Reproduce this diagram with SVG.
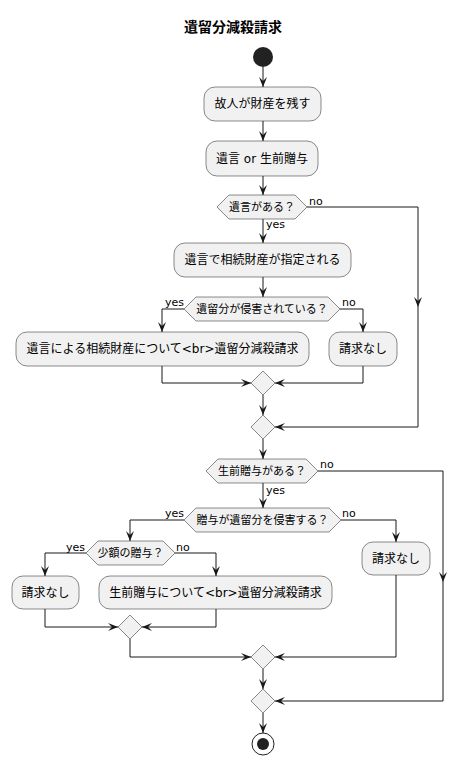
<svg xmlns="http://www.w3.org/2000/svg" width="468" height="765" viewBox="0 0 468 765">
<defs>
<style>
text{font-family:"DejaVu Sans","Noto Sans CJK JP",sans-serif;fill:#000}
.t{font-size:14px;font-weight:bold;text-anchor:middle}
.a{font-size:12px;text-anchor:middle}
.d{font-size:11px;text-anchor:middle}
.l{font-size:11px}
.e{font-size:11px;text-anchor:end}
.box{fill:#F1F1F1;stroke:#181818;stroke-width:0.5}
.c path{fill:none;stroke:#181818;stroke-width:1;marker-end:url(#ah)}
</style>
<marker id="ah" markerUnits="userSpaceOnUse" viewBox="0 0 10 8" refX="10" refY="4" markerWidth="10" markerHeight="8" orient="auto">
<path d="M0,0 L10,4 L0,8 L4,4 Z" fill="#181818"/>
</marker>
</defs>
<rect width="468" height="765" fill="#fff"/>
<text class="t" x="233" y="32">遺留分減殺請求</text>

<g class="c" id="connectors">
<path d="M263,67 V87"/>
<path d="M263,121 V141"/>
<path d="M263,176 V195"/>
<path d="M307,207 H418 V307"/>
<path d="M418,307 V427 H275"/>
<path d="M263,219 V243"/>
<path d="M263,277 V297"/>
<path d="M184,309 H162 V332"/>
<path d="M340,309 H363 V332"/>
<path d="M162,366 V383 H251"/>
<path d="M363,366 V383 H275"/>
<path d="M263,395 V415"/>
<path d="M263,439 V459"/>
<path d="M318,471 H443 V582"/>
<path d="M443,582 V701 H275"/>
<path d="M263,483 V508"/>
<path d="M184,520 H130 V541"/>
<path d="M341,520 H396 V542"/>
<path d="M86,553 H45 V576"/>
<path d="M175,553 H216 V576"/>
<path d="M45,609 V627 H118"/>
<path d="M216,609 V627 H142"/>
<path d="M130,639 V657 H251"/>
<path d="M396,575 V657 H275"/>
<path d="M263,669 V689"/>
<path d="M263,713 V733"/>
</g>

<g id="start"><circle cx="263" cy="57" r="10" fill="#222"/></g>

<g id="n1"><rect class="box" x="204" y="87" width="117" height="34" rx="11"/><text class="a" x="262.5" y="108">故人が財産を残す</text></g>
<g id="n2"><rect class="box" x="206" y="141" width="112" height="35" rx="11"/><text class="a" x="262" y="163">遺言 or 生前贈与</text></g>

<g id="d1"><polygon class="box" points="217,207 229,195 295,195 307,207 295,219 229,219"/><text class="d" x="262" y="211">遺言がある？</text></g>
<text class="l" x="309" y="205">no</text>
<text class="l" x="266" y="228">yes</text>

<g id="n3"><rect class="box" x="174" y="243" width="177" height="34" rx="11"/><text class="a" x="262.5" y="264">遺言で相続財産が指定される</text></g>

<g id="d2"><polygon class="box" points="184,309 196,297 328,297 340,309 328,321 196,321"/><text class="d" x="262" y="313">遺留分が侵害されている？</text></g>
<text class="e" x="184" y="306">yes</text>
<text class="l" x="342" y="306">no</text>

<g id="n4"><rect class="box" x="16" y="332" width="293" height="34" rx="11"/><text class="a" x="162.5" y="353">遺言による相続財産について&lt;br&gt;遺留分減殺請求</text></g>
<g id="n5"><rect class="box" x="329" y="332" width="68" height="34" rx="11"/><text class="a" x="363" y="353">請求なし</text></g>

<g id="m1"><polygon class="box" points="251,383 263,371 275,383 263,395"/></g>
<g id="m2"><polygon class="box" points="251,427 263,415 275,427 263,439"/></g>

<g id="d3"><polygon class="box" points="206,471 218,459 306,459 318,471 306,483 218,483"/><text class="d" x="262" y="475">生前贈与がある？</text></g>
<text class="l" x="320" y="468">no</text>
<text class="l" x="266" y="494">yes</text>

<g id="d4"><polygon class="box" points="184,520 196,508 329,508 341,520 329,532 196,532"/><text class="d" x="262.5" y="524">贈与が遺留分を侵害する？</text></g>
<text class="e" x="184" y="517">yes</text>
<text class="l" x="342" y="517">no</text>

<g id="d5"><polygon class="box" points="86,553 98,541 163,541 175,553 163,565 98,565"/><text class="d" x="130.5" y="557">少額の贈与？</text></g>
<text class="e" x="85" y="551">yes</text>
<text class="l" x="176" y="551">no</text>

<g id="n6"><rect class="box" x="12" y="576" width="67" height="33" rx="11"/><text class="a" x="45.5" y="597">請求なし</text></g>
<g id="n7"><rect class="box" x="99" y="576" width="233" height="33" rx="11"/><text class="a" x="215.5" y="597">生前贈与について&lt;br&gt;遺留分減殺請求</text></g>
<g id="n8"><rect class="box" x="362" y="542" width="68" height="33" rx="11"/><text class="a" x="396" y="563">請求なし</text></g>

<g id="m3"><polygon class="box" points="118,627 130,615 142,627 130,639"/></g>
<g id="m4"><polygon class="box" points="251,657 263,645 275,657 263,669"/></g>
<g id="m5"><polygon class="box" points="251,701 263,689 275,701 263,713"/></g>

<g id="end"><circle cx="263" cy="744" r="11" fill="none" stroke="#222" stroke-width="1"/><circle cx="263" cy="744" r="6" fill="#222"/></g>
</svg>
